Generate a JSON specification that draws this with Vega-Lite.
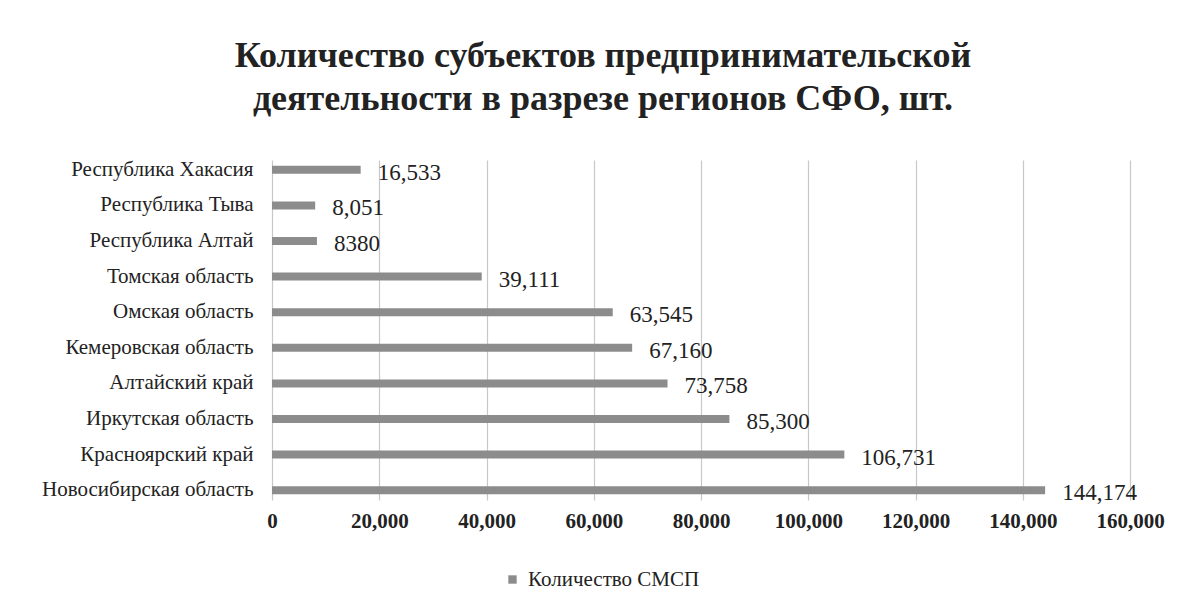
{
  "$schema": "https://vega.github.io/schema/vega-lite/v6.json",
  "autosize": {"type": "none"},
  "width": 858,
  "height": 340,
  "padding": {"left": 272, "top": 160, "right": 52, "bottom": 110},
  "background": "white",
  "title": {
    "text": ["Количество субъектов предпринимательской", "деятельности в разрезе регионов СФО, шт."],
    "font": "Liberation Serif",
    "fontSize": 36,
    "fontWeight": "bold",
    "color": "#222222",
    "anchor": "middle",
    "dx": -98,
    "offset": 40,
    "lineHeight": 43
  },
  "data": {
    "values": [
      {"region": "Республика Хакасия", "value": 16533, "label": "16,533"},
      {"region": "Республика Тыва", "value": 8051, "label": "8,051"},
      {"region": "Республика Алтай", "value": 8380, "label": "8380"},
      {"region": "Томская область", "value": 39111, "label": "39,111"},
      {"region": "Омская область", "value": 63545, "label": "63,545"},
      {"region": "Кемеровская область", "value": 67160, "label": "67,160"},
      {"region": "Алтайский край", "value": 73758, "label": "73,758"},
      {"region": "Иркутская область", "value": 85300, "label": "85,300"},
      {"region": "Красноярский край", "value": 106731, "label": "106,731"},
      {"region": "Новосибирская область", "value": 144174, "label": "144,174"}
    ]
  },
  "encoding": {
    "y": {
      "field": "region",
      "type": "nominal",
      "sort": null,
      "title": null,
      "scale": {"paddingInner": 0.75, "paddingOuter": 0.15},
      "axis": {
        "domain": false,
        "ticks": false,
        "labelFont": "Liberation Serif",
        "labelFontSize": 21,
        "labelColor": "#222222",
        "labelPadding": 19,
        "labelLimit": 300
      }
    },
    "x": {
      "field": "value",
      "type": "quantitative",
      "title": null,
      "scale": {"domain": [0, 160000], "nice": false},
      "axis": {
        "values": [0, 20000, 40000, 60000, 80000, 100000, 120000, 140000, 160000],
        "format": ",d",
        "domain": false,
        "ticks": false,
        "grid": true,
        "gridColor": "#c8c8c8",
        "gridWidth": 1.2,
        "labelFlush": false,
        "labelOverlap": false,
        "labelFont": "Liberation Serif",
        "labelFontSize": 21,
        "labelFontWeight": "bold",
        "labelColor": "#222222",
        "labelPadding": 10
      }
    }
  },
  "layer": [
    {
      "mark": {"type": "bar", "size": 8},
      "encoding": {
        "color": {
          "datum": "Количество СМСП",
          "type": "nominal",
          "scale": {"range": ["#8c8c8c"]},
          "legend": {
            "title": null,
            "orient": "none",
            "legendX": 230,
            "legendY": 409,
            "symbolType": "square",
            "symbolSize": 70,
            "labelFont": "Liberation Serif",
            "labelFontSize": 21,
            "labelColor": "#222222",
            "labelOffset": 5,
            "labelLimit": 400
          }
        }
      }
    },
    {
      "mark": {
        "type": "text",
        "align": "left",
        "baseline": "middle",
        "dx": 17,
        "dy": 3,
        "font": "Liberation Serif",
        "fontSize": 23,
        "color": "#222222"
      },
      "encoding": {"text": {"field": "label"}}
    }
  ],
  "config": {"view": {"stroke": null}}
}
